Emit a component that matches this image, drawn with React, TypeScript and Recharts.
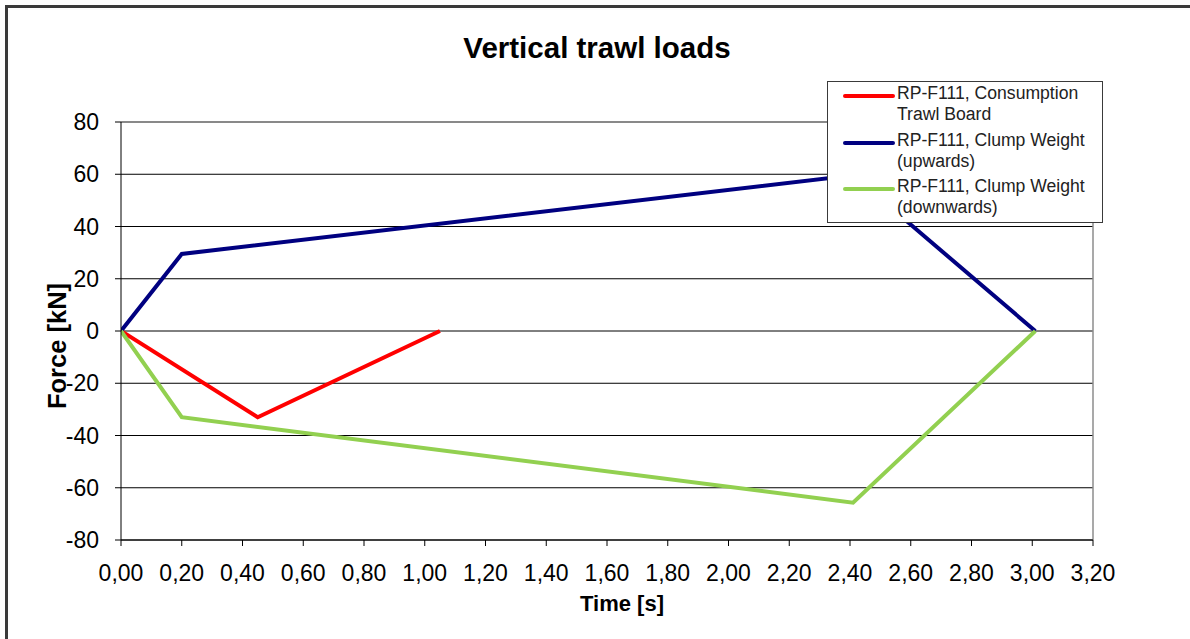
import { LineChart, Line, XAxis, YAxis, CartesianGrid, ReferenceLine, Legend } from 'recharts';

const FONT = '"Liberation Sans", Arial, sans-serif';

// time [s] / force [kN] pairs
const CONSUMPTION_TIME = [0, 0.45, 1.05];
const CONSUMPTION_FORCE = [0, -33, 0];

const UPWARDS_TIME = [0, 0.2, 2.41, 3.01];
const UPWARDS_FORCE = [0, 29.5, 59.6, 0];

const DOWNWARDS_TIME = [0, 0.2, 2.41, 3.01];
const DOWNWARDS_FORCE = [0, -33, -65.7, 0];

const X_TICKS = [0, 0.2, 0.4, 0.6, 0.8, 1.0, 1.2, 1.4, 1.6, 1.8, 2.0, 2.2, 2.4, 2.6, 2.8, 3.0, 3.2];
const Y_TICKS = [-80, -60, -40, -20, 0, 20, 40, 60, 80];

const SERIES = [
    { name: 'RP-F111, Consumption|Trawl Board', color: '#ff0000', time: CONSUMPTION_TIME, force: CONSUMPTION_FORCE },
    { name: 'RP-F111, Clump Weight|(upwards)', color: '#000080', time: UPWARDS_TIME, force: UPWARDS_FORCE },
    { name: 'RP-F111, Clump Weight|(downwards)', color: '#92d050', time: DOWNWARDS_TIME, force: DOWNWARDS_FORCE },
];
const SERIES_ORDER = SERIES.map(s => s.name);

const toPoints = (t: number[], f: number[]) => t.map((x, i) => ({ t: x, f: f[i] }));

const fmtComma = (v: number) => v.toFixed(2).replace('.', ',');

function LegendBox({ payload }: { payload?: any[] }) {
    // keep the legend in series order (recharts hands it over reversed)
    const items = [...(payload || [])].sort((a, b) => SERIES_ORDER.indexOf(a.value) - SERIES_ORDER.indexOf(b.value));
    return (
        <div style={{
            position: 'absolute', left: 827, top: 81, width: 274, height: 140,
            border: '1.5px solid #3a3a3a', background: '#fff', fontFamily: FONT,
        }}>
            {items.map((p, i) => {
                const [l1, l2] = String(p.value).split('|');
                return (
                    <div key={i} style={{ position: 'absolute', left: 0, top: 1 + i * 46.5, width: 274 }}>
                        <div style={{ position: 'absolute', left: 15, top: 11, width: 52, height: 4, background: p.color, borderRadius: 2 }} />
                        <div style={{ position: 'absolute', left: 69, top: 0, fontSize: 17.6, lineHeight: '21px', color: '#222', whiteSpace: 'nowrap' }}>
                            {l1}<br />{l2}
                        </div>
                    </div>
                );
            })}
        </div>
    );
}

export default function App() {
    return (
        <div style={{ position: 'fixed', left: 0, top: 0, width: 1190, height: 639, overflow: 'hidden', background: '#fff', fontFamily: FONT }}>
            <div style={{ position: 'absolute', left: 5, top: 5, width: 1400, height: 900, borderTop: '3px solid #3a3a3a', borderLeft: '3px solid #3a3a3a' }} />
            <div style={{ position: 'absolute', left: 0, width: 1194, top: 31, textAlign: 'center', fontSize: 29.5, fontWeight: 'bold', color: '#000' }}>
                Vertical trawl loads
            </div>
            <div style={{ position: 'absolute', left: 522, width: 200, top: 591, textAlign: 'center', fontSize: 22, fontWeight: 'bold', color: '#000' }}>
                Time [s]
            </div>
            <div style={{
                position: 'absolute', left: 57, top: 346, width: 200, textAlign: 'center', fontSize: 25.5, fontWeight: 'bold', color: '#000',
                transform: 'translate(-50%, -50%) rotate(-90deg)', lineHeight: '26px',
            }}>
                Force [kN]
            </div>
            <div style={{ position: 'absolute', left: 0, top: 0 }}>
                <LineChart width={1190} height={639} margin={{ top: 122, right: 97, bottom: 39, left: 41 }}>
                    <CartesianGrid vertical={false} stroke="#000" horizontalValues={Y_TICKS} />
                    <XAxis
                        type="number"
                        dataKey="t"
                        domain={[0, 3.2]}
                        ticks={X_TICKS}
                        tickFormatter={fmtComma}
                        interval={0}
                        height={60}
                        tickSize={6}
                        tickMargin={19}
                        stroke="#000"
                        allowDataOverflow
                        tick={{ fill: '#000', fontSize: 23, fontFamily: FONT }}
                    />
                    <YAxis
                        type="number"
                        dataKey="f"
                        domain={[-80, 80]}
                        ticks={Y_TICKS}
                        interval={0}
                        width={80}
                        tickSize={6}
                        tickMargin={16}
                        stroke="#000"
                        tick={{ fill: '#000', fontSize: 23, fontFamily: FONT }}
                    />
                    <ReferenceLine y={80} stroke="#8c8c8c" strokeWidth={1.5} />
                    <ReferenceLine x={3.2} stroke="#8c8c8c" strokeWidth={1.5} />
                    {SERIES.map(s => (
                        <Line
                            key={s.name}
                            name={s.name}
                            data={toPoints(s.time, s.force)}
                            dataKey="f"
                            type="linear"
                            stroke={s.color}
                            strokeWidth={4}
                            dot={false}
                            activeDot={false}
                            isAnimationActive={false}
                        />
                    ))}
                    <Legend content={<LegendBox />} wrapperStyle={{ position: 'absolute', left: 0, top: 0, width: 0, height: 0 }} />
                </LineChart>
            </div>
        </div>
    );
}
